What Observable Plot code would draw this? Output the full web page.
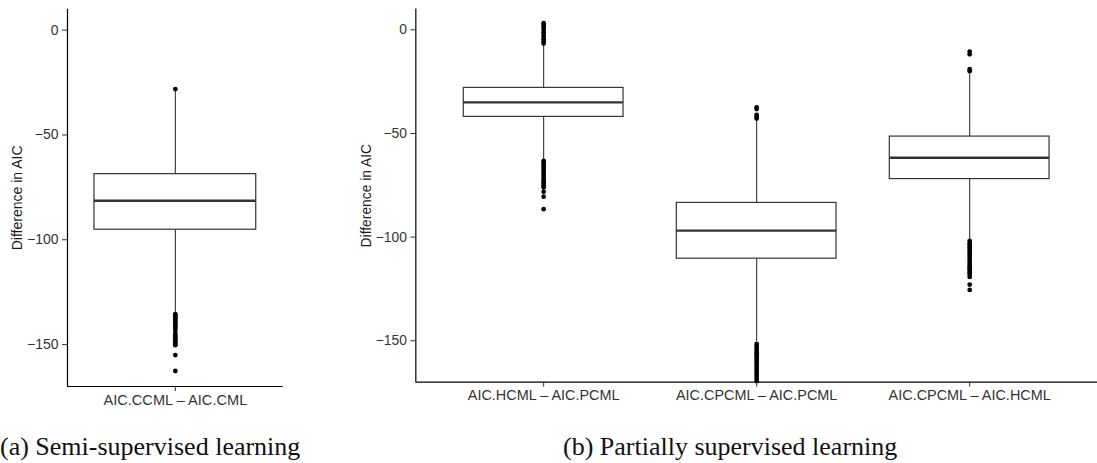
<!DOCTYPE html>
<html>
<head>
<meta charset="utf-8">
<script src="https://cdn.jsdelivr.net/npm/d3@7"></script>
<script src="https://cdn.jsdelivr.net/npm/@observablehq/plot@0.6"></script>
<style>
  html, body { margin: 0; padding: 0; background: #fff; }
  #page { position: relative; width: 1097px; height: 463px; overflow: hidden; background: #fff; }
  .panel { position: absolute; top: 0; }
  .caption {
    position: absolute; top: 434px; line-height: 1;
    font-family: "Liberation Serif", "DejaVu Serif", serif; font-size: 26px; color: #111;
    white-space: nowrap;
  }
</style>
</head>
<body>
<div id="page">
  <div id="semi" class="panel" style="left:0px"></div>
  <div id="partial" class="panel" style="left:293px"></div>
  <div class="caption" style="left:0px">(a) Semi-supervised learning</div>
  <div class="caption" style="left:563px">(b) Partially supervised learning</div>
</div>
<script>
// Shared axis settings
const yTitle = "Difference in AIC";
const yTicks = [0, -50, -100, -150];
const yDomain = [-170, 10];

// (a) Semi-supervised learning: box statistics
const semiCategories = ["AIC.CCML – AIC.CML"];
const semiQ1 = [-95.2];
const semiMedian = [-81.4];
const semiQ3 = [-68.7];
const semiWhiskerLow = [-134.6];
const semiWhiskerHigh = [-29.2];
const semiOutliers = [
  [-28.1, -135.5, -136.3, -137.0, -138.0, -139.0, -140.0, -141.0, -142.0, -143.0,
   -144.5, -145.5, -146.5, -147.5, -148.5, -149.5, -150.3, -155.0, -162.6]
];

// (b) Partially supervised learning: box statistics
const partCategories = ["AIC.HCML – AIC.PCML", "AIC.CPCML – AIC.PCML", "AIC.CPCML – AIC.HCML"];
const partQ1 = [-42.0, -110.4, -72.0];
const partMedian = [-35.0, -96.9, -61.7];
const partQ3 = [-28.0, -83.5, -51.5];
const partWhiskerLow = [-62.6, -150.4, -101.1];
const partWhiskerHigh = [-7.2, -43.8, -21.5];
const partOutliers = [
  [3.2, 2.2, 1.2, 0.0, -1.2, -2.4, -3.5, -4.6, -5.6, -6.6,
   -63.2, -64.0, -65.0, -66.0, -67.0, -68.0, -69.0, -70.0, -71.0, -72.0, -73.0, -74.0, -75.0, -76.0,
   -78.1, -80.5, -86.5],
  [-37.4, -38.2, -41.0, -42.0, -42.8,
   -151.5, -152.5, -153.5, -154.5, -155.5, -156.5, -157.5, -158.5, -159.5, -160.5,
   -161.5, -162.5, -163.5, -164.5, -165.5, -166.5, -167.5, -168.5, -169.5],
  [-10.5, -11.8, -19.0, -20.0,
   -101.8, -103.0, -104.0, -105.0, -106.0, -107.0, -108.0, -109.0, -110.0, -111.0, -112.0,
   -113.0, -114.0, -115.0, -116.0, -117.0, -118.0, -119.2, -122.9, -125.5]
];

const boxHalf = 0.375;
const ink = "#333333";
const sans = "'Liberation Sans', Arial, Helvetica, sans-serif";

function boxPanel({categories, q1, median, q3, lo, hi, outliers, xDomain, width, marginLeft, marginRight}) {
  const stats = categories.map((name, i) => ({
    pos: i + 1, name, q1: q1[i], median: median[i], q3: q3[i], lo: lo[i], hi: hi[i]
  }));
  const points = outliers.flatMap((vals, i) => vals.map(v => ({pos: i + 1, value: v})));
  return Plot.plot({
    width,
    height: 410,
    marginTop: 8.7,
    marginBottom: 24,
    marginLeft,
    marginRight,
    style: {fontFamily: sans, fontSize: "14px", background: "transparent"},
    x: {domain: xDomain},
    y: {domain: yDomain},
    marks: [
      // whiskers
      Plot.ruleX(stats, {x: "pos", y1: "lo", y2: "hi", stroke: ink, strokeWidth: 1.1}),
      // boxes
      Plot.rect(stats, {x1: d => d.pos - boxHalf, x2: d => d.pos + boxHalf, y1: "q1", y2: "q3",
                        fill: "white", stroke: ink, strokeWidth: 1.2}),
      // medians
      Plot.ruleY(stats, {y: "median", x1: d => d.pos - boxHalf, x2: d => d.pos + boxHalf,
                         stroke: ink, strokeWidth: 2.4}),
      // outliers
      Plot.dot(points, {x: "pos", y: "value", r: 2.4, fill: "black", stroke: "none"}),
      // axis lines
      Plot.ruleX([xDomain[0]], {stroke: "black", strokeWidth: 1.2}),
      Plot.ruleY([yDomain[0]], {stroke: "black", strokeWidth: 1.2}),
      Plot.axisY({ticks: yTicks, tickSize: 5, tickPadding: 4, stroke: ink, fill: "#333",
                  fontSize: 14, label: null}),
      Plot.axisX({ticks: stats.map(d => d.pos), tickFormat: p => categories[p - 1],
                  tickSize: 5, tickPadding: 3, stroke: ink, fill: "#333",
                  fontSize: 14.6, label: null}),
      Plot.text([yTitle], {frameAnchor: "left", textAnchor: "middle", dx: -49.5, rotate: -90,
                           text: d => d, fill: "#1a1a1a", fontSize: 14})
    ]
  });
}

document.getElementById("semi").append(boxPanel({
  categories: semiCategories, q1: semiQ1, median: semiMedian, q3: semiQ3,
  lo: semiWhiskerLow, hi: semiWhiskerHigh, outliers: semiOutliers,
  xDomain: [0.5, 1.5], width: 293, marginLeft: 67, marginRight: 10.3
}));

document.getElementById("partial").append(boxPanel({
  categories: partCategories, q1: partQ1, median: partMedian, q3: partQ3,
  lo: partWhiskerLow, hi: partWhiskerHigh, outliers: partOutliers,
  xDomain: [0.4, 3.6], width: 813, marginLeft: 123.7, marginRight: 0
}));
</script>
</body>
</html>
